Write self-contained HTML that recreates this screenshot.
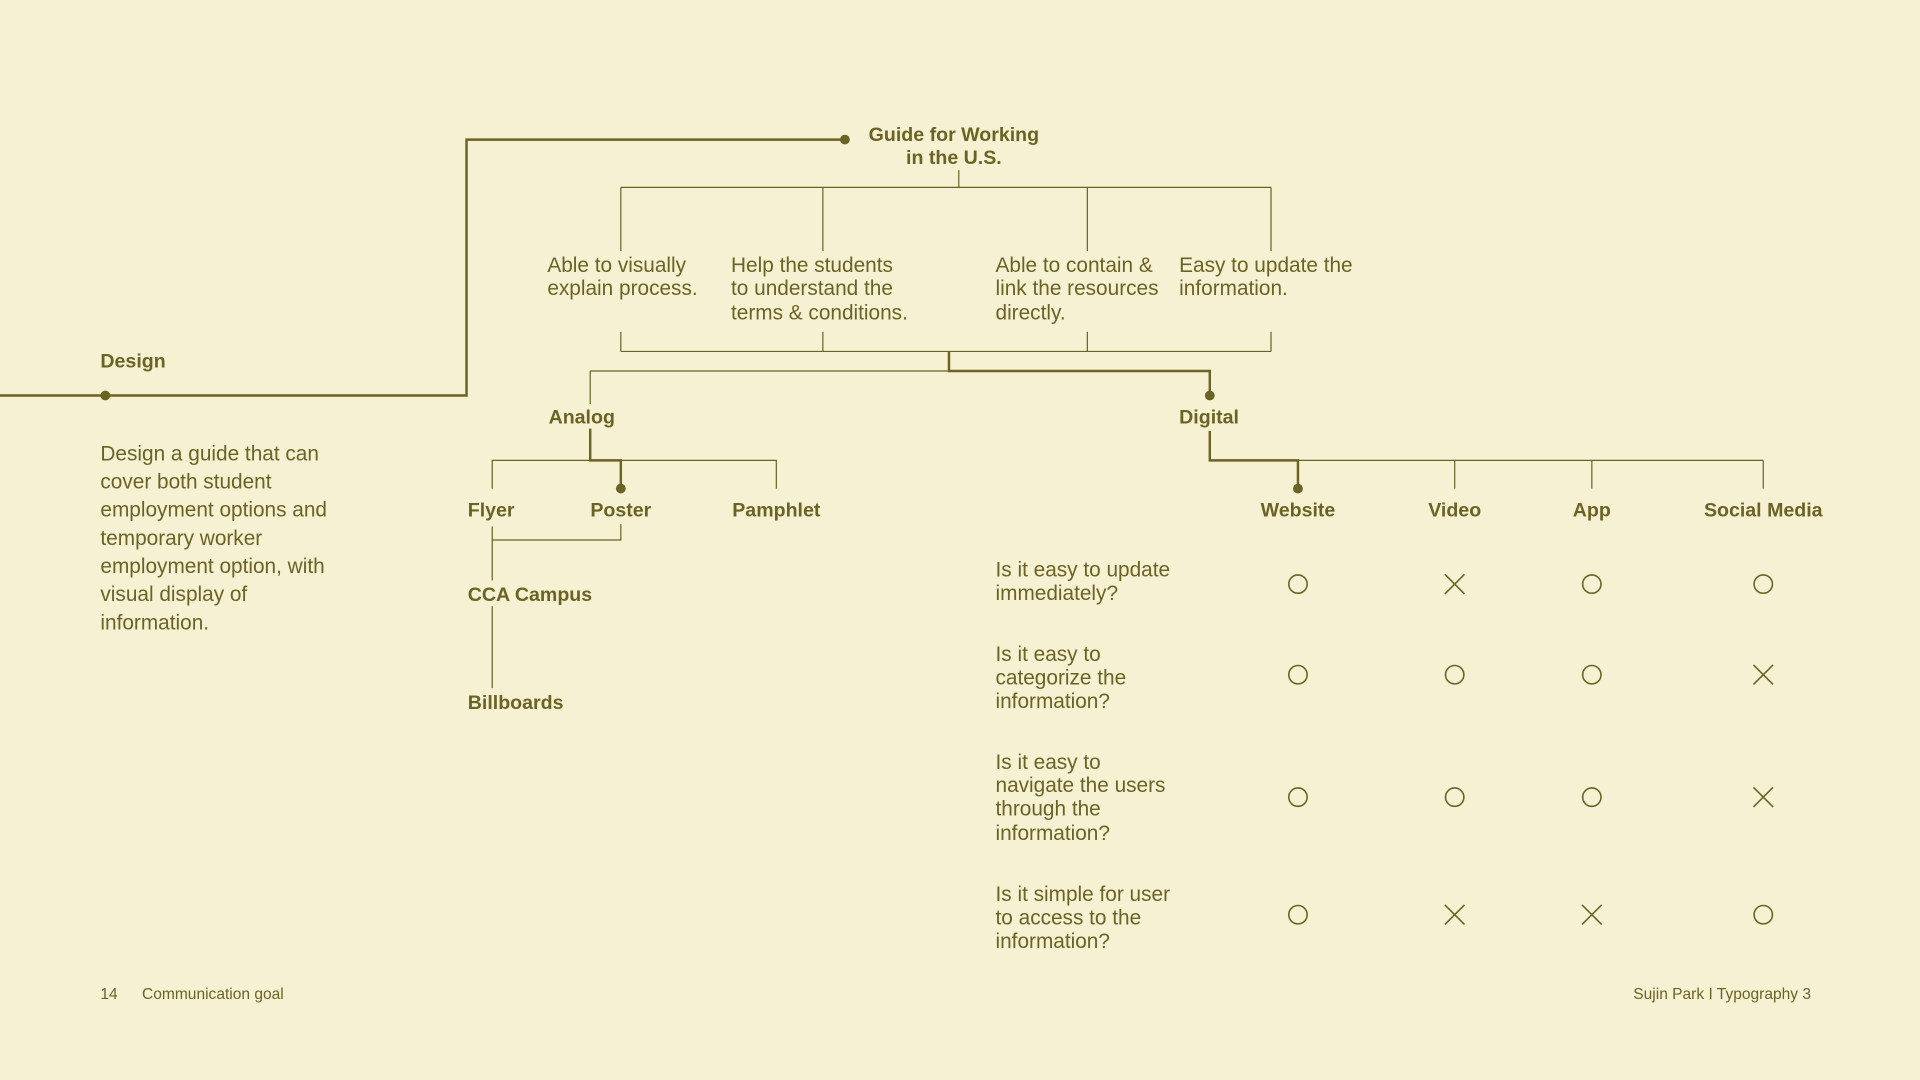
<!DOCTYPE html>
<html><head><meta charset="utf-8"><style>
html,body{margin:0;padding:0;background:#f6f1d3;}
svg{display:block}
text{font-family:"Liberation Sans",sans-serif;fill:#6b6324;}
.b{font-weight:bold;font-size:16px}
.r{font-size:17px}
</style></head><body>
<svg width="1920" height="1080" viewBox="0 0 1568 882" xmlns="http://www.w3.org/2000/svg">
<rect width="1568" height="882" fill="#f6f1d3"/>
<g stroke="#6b6324" fill="none">
<polyline points="0,323 381,323 381,114 690,114" stroke-width="2"/>
<g stroke-width="1">
<line x1="783" y1="139" x2="783" y2="153"/>
<line x1="507" y1="153" x2="1038" y2="153"/>
<line x1="507" y1="153" x2="507" y2="205"/><line x1="672" y1="153" x2="672" y2="205"/>
<line x1="888" y1="153" x2="888" y2="205"/><line x1="1038" y1="153" x2="1038" y2="205"/>
<line x1="507" y1="271" x2="507" y2="287"/><line x1="672" y1="271" x2="672" y2="287"/>
<line x1="888" y1="271" x2="888" y2="287"/><line x1="1038" y1="271" x2="1038" y2="287"/>
<line x1="507" y1="287" x2="1038" y2="287"/>
<line x1="482" y1="303" x2="775" y2="303"/>
<line x1="482" y1="303" x2="482" y2="330"/>
<polyline points="402,399 402,376 634,376 634,399"/>
<polyline points="402,430 402,441 507,441 507,428"/>
<line x1="402" y1="441" x2="402" y2="474"/>
<line x1="402" y1="495" x2="402" y2="562"/>
<line x1="1060" y1="376" x2="1440" y2="376"/>
<line x1="1188" y1="376" x2="1188" y2="399"/><line x1="1300" y1="376" x2="1300" y2="399"/><line x1="1440" y1="376" x2="1440" y2="399"/>
</g>
<g stroke-width="2">
<polyline points="775,287 775,303 988,303 988,323"/>
<polyline points="482,350 482,376 507,376 507,399"/>
<polyline points="988,352 988,376 1060,376 1060,399"/>
</g>
</g>
<g fill="#6b6324">
<circle cx="86" cy="323" r="4"/><circle cx="690" cy="114" r="4"/>
<circle cx="988" cy="323" r="4"/><circle cx="507" cy="399" r="4"/><circle cx="1060" cy="399" r="4"/>
</g>
<text class="b" x="779" y="115" text-anchor="middle">Guide for Working</text>
<text class="b" x="779" y="134" text-anchor="middle">in the U.S.</text>
<text class="r" x="447" y="222">Able to visually</text><text class="r" x="447" y="241">explain process.</text>
<text class="r" x="597" y="222">Help the students</text><text class="r" x="597" y="241">to understand the</text><text class="r" x="597" y="261">terms &amp; conditions.</text>
<text class="r" x="813" y="222">Able to contain &amp;</text><text class="r" x="813" y="241">link the resources</text><text class="r" x="813" y="261">directly.</text>
<text class="r" x="963" y="222">Easy to update the</text><text class="r" x="963" y="241">information.</text>
<text class="b" x="82" y="300">Design</text>
<text class="r" x="82" y="376">Design a guide that can</text>
<text class="r" x="82" y="399">cover both student</text>
<text class="r" x="82" y="422">employment options and</text>
<text class="r" x="82" y="445">temporary worker</text>
<text class="r" x="82" y="468">employment option, with</text>
<text class="r" x="82" y="491">visual display of</text>
<text class="r" x="82" y="514">information.</text>
<text class="b" x="448" y="346">Analog</text>
<text class="b" x="963" y="346">Digital</text>
<text class="b" x="382" y="422">Flyer</text>
<text class="b" x="507" y="422" text-anchor="middle">Poster</text>
<text class="b" x="634" y="422" text-anchor="middle">Pamphlet</text>
<text class="b" x="382" y="491">CCA Campus</text>
<text class="b" x="382" y="579">Billboards</text>
<text class="b" x="1060" y="422" text-anchor="middle">Website</text>
<text class="b" x="1188" y="422" text-anchor="middle">Video</text>
<text class="b" x="1300" y="422" text-anchor="middle">App</text>
<text class="b" x="1440" y="422" text-anchor="middle">Social Media</text>
<text class="r" x="813" y="471">Is it easy to update</text><text class="r" x="813" y="490">immediately?</text>
<text class="r" x="813" y="540">Is it easy to</text><text class="r" x="813" y="559">categorize the</text><text class="r" x="813" y="578">information?</text>
<text class="r" x="813" y="628">Is it easy to</text><text class="r" x="813" y="647">navigate the users</text><text class="r" x="813" y="666">through the</text><text class="r" x="813" y="686">information?</text>
<text class="r" x="813" y="736">Is it simple for user</text><text class="r" x="813" y="755">to access to the</text><text class="r" x="813" y="774">information?</text>
<g stroke="#6b6324" stroke-width="1.3" fill="none">
<circle cx="1060" cy="477" r="7.5"/><path d="M1180,469 l16,16 M1196,469 l-16,16"/><circle cx="1300" cy="477" r="7.5"/><circle cx="1440" cy="477" r="7.5"/>
<circle cx="1060" cy="551" r="7.5"/><circle cx="1188" cy="551" r="7.5"/><circle cx="1300" cy="551" r="7.5"/><path d="M1432,543 l16,16 M1448,543 l-16,16"/>
<circle cx="1060" cy="651" r="7.5"/><circle cx="1188" cy="651" r="7.5"/><circle cx="1300" cy="651" r="7.5"/><path d="M1432,643 l16,16 M1448,643 l-16,16"/>
<circle cx="1060" cy="747" r="7.5"/><path d="M1180,739 l16,16 M1196,739 l-16,16"/><path d="M1292,739 l16,16 M1308,739 l-16,16"/><circle cx="1440" cy="747" r="7.5"/>
</g>
<text x="82" y="816" font-size="12.7">14</text>
<text x="116" y="816" font-size="12.7">Communication goal</text>
<text x="1479" y="816" font-size="12.7" text-anchor="end">Sujin Park I Typography 3</text>
</svg>
</body></html>
